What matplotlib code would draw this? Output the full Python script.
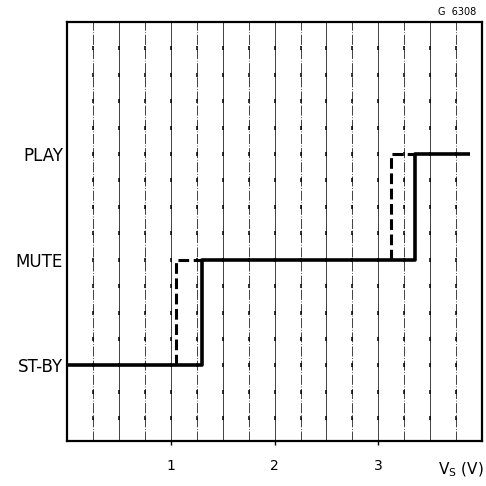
import numpy as np
import matplotlib.pyplot as plt

# niveles de estado (posición en unidades de rejilla)
estados = ['ST-BY', 'MUTE', 'PLAY']
niveles = [3, 7, 11]

# curva continua (subida de tensión)
sube_x = [0.0, 1.30, 1.30, 3.35, 3.35, 3.88]
sube_y = [3, 3, 7, 7, 11, 11]

# curvas discontinuas (bajada de tensión)
baja1_x = [1.05, 1.05, 1.30]
baja1_y = [3, 7, 7]
baja2_x = [3.12, 3.12, 3.35]
baja2_y = [7, 11, 11]

xticks = [1, 2, 3]

fig = plt.figure(figsize=(4.86, 4.86), dpi=100)
ax = fig.add_axes([0.138, 0.093, 0.854, 0.862])
ax.set_xlim(0, 4)
ax.set_ylim(0.15, 16)

# rejilla: verticales finas, horizontales solo puntos
gx = np.arange(0.25, 4, 0.25)
gy = np.arange(1, 16, 1)
for i, x in enumerate(gx):
    ax.axvline(x, color='#222222', lw=0.6, ls='-' if i % 2 else (0, (12, 2, 1, 2)), zorder=1)
X, Y = np.meshgrid(gx, gy)
ax.plot(X.ravel(), Y.ravel(), ls='none', marker='|', ms=3, mew=1.1, color='black', zorder=1)

ax.plot(sube_x, sube_y, color='black', lw=2.6, solid_capstyle='butt', zorder=3)
ax.plot(baja1_x, baja1_y, color='black', lw=2.2, ls=(0, (3.5, 1.5)), zorder=3)
ax.plot(baja2_x, baja2_y, color='black', lw=2.2, ls=(0, (3.5, 1.5)), zorder=3)

for s in ax.spines.values():
    s.set_linewidth(1.6)

ax.set_xticks(xticks)
ax.set_xticklabels([str(v) for v in xticks], fontsize=10)
ax.tick_params(axis='x', length=3, width=1, pad=10)
ax.set_yticks(niveles)
ax.set_yticklabels(estados, fontsize=12)
ax.tick_params(axis='y', length=0, pad=3)

fig.text(0.995, 0.025, r'V$_\mathrm{S}$ (V)', ha='right', va='baseline', fontsize=11)
fig.text(0.98, 0.965, 'G  6308', ha='right', va='bottom', fontsize=7)

fig.savefig('out.png', dpi=100)
